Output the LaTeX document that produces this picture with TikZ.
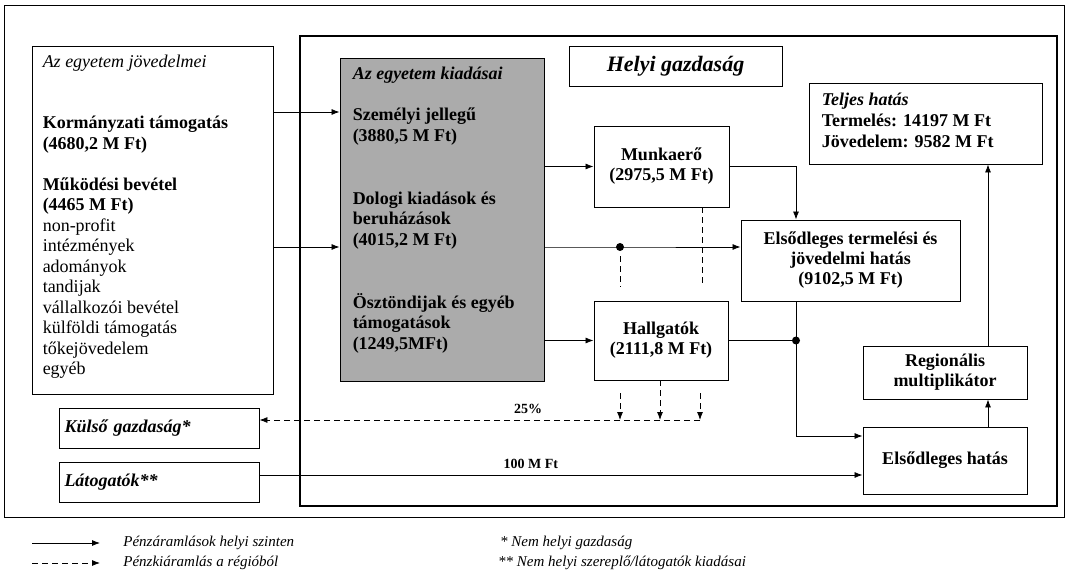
\documentclass[tikz,border=0pt]{standalone}
\usepackage{fontspec}
\setmainfont{Liberation Serif}
\usetikzlibrary{
  arrows.meta, % for the Latex arrow tip
  positioning, % for relative placement of the labels
}
\tikzset{
  box/.style={ % style for the plain boxes
    rectangle,draw,line width=0.9pt, % thin black border
    inner sep=0pt, % no padding, the size is set by hand
    align=center, % centred lines of text
    font=\fontsize{18}{20}\selectfont\bfseries, % bold serif text
  },
  greybox/.style={ % style for the spending box
    box, % inherit the box style
    fill=black!33, % grey fill
  },
  frame/.style={ % style for the outer frames
    rectangle,draw,inner sep=0pt,
  },
  txt/.style={ % style for the free text blocks
    inner sep=0pt,align=left,
    font=\fontsize{18}{20.5}\selectfont,
  },
  conn/.style={ % style for the money flows
    -{Latex[length=8pt,width=6pt]}, % small filled arrow tip
    line width=0.8pt,
  },
  leak/.style={ % style for the money leaving the region
    conn, % inherit the conn style
    dash pattern=on 6pt off 4pt,
  },
  dot/.style={ % style for the joints
    circle,fill,inner sep=0pt,minimum size=8pt,
  },
  num/.style={ % style for the numbers on the long flows
    font=\fontsize{14}{16}\selectfont\bfseries,
  },
  legtxt/.style={ % style for the legend texts
    inner sep=0pt,anchor=west,
    font=\fontsize{15}{17}\selectfont\itshape,
  },
}

\begin{document}
\begin{tikzpicture}[x=1pt,y=-1pt]
	\useasboundingbox (0,0) rectangle (1069,578);

	% frames
	\node[frame,line width=0.8pt,minimum width=1060pt,minimum height=512pt] (outer) at (534,261) {};
	\node[frame,line width=2.6pt,minimum width=757pt,minimum height=470pt] (local) at (678.5,271) {};

	% income
	\node[box,minimum width=241pt,minimum height=348pt] (jov) at (152.5,220) {};
	\node[txt,anchor=north west] (jovtxt) at ([xshift=11pt,yshift=-9pt]jov.north west) {%
		\textit{Az egyetem jövedelmei}\\[41pt]
		\textbf{Kormányzati támogatás}\\
		\textbf{(4680,2 M Ft)}\\[20.5pt]
		\textbf{Működési bevétel}\\
		\textbf{(4465 M Ft)}\\
		non-profit\\
		intézmények\\
		adományok\\
		tandijak\\
		vállalkozói bevétel\\
		külföldi támogatás\\
		tőkejövedelem\\
		egyéb};

	% spending
	\node[greybox,minimum width=204pt,minimum height=323pt] (grey) at (442,219.5) {};
	\node[txt,font=\fontsize{18}{20.8}\selectfont\bfseries,anchor=north west] (greytxt) at ([xshift=13pt,yshift=-9pt]grey.north west) {%
		\textit{Az egyetem kiadásai}\\[20.8pt]
		Személyi jellegű\\
		(3880,5 M Ft)\\[41.6pt]
		Dologi kiadások és\\
		beruházások\\
		(4015,2 M Ft)\\[41.6pt]
		Ösztöndijak és egyéb\\
		támogatások\\
		(1249,5MFt)};

	% local economy
	\node[box,minimum width=213pt,minimum height=40pt,font=\fontsize{22}{24}\selectfont\bfseries\itshape] (helyi) at (675.5,66) {Helyi gazdaság};
	\node[box,minimum width=135pt,minimum height=81pt] (munka) at (661.5,166.5) {Munkaerő\\(2975,5 M Ft)};
	\node[box,minimum width=134pt,minimum height=79pt] (hallg) at (661,340.5) {Hallgatók\\(2111,8 M Ft)};
	\node[box,minimum width=219pt,minimum height=81pt] (elsod) at (850.5,260.5) {Elsődleges termelési és\\jövedelmi hatás\\(9102,5 M Ft)};
	\node[box,minimum width=233pt,minimum height=81pt] (teljes) at (925.5,123.5) {};
	\node[txt,font=\fontsize{18}{21}\selectfont\bfseries,anchor=north west] (teljestxt) at ([xshift=13pt,yshift=-10pt]teljes.north west) {%
		\textit{Teljes hatás}\\
		Termelés: 14197 M Ft\\
		Jövedelem: 9582 M Ft};
	\node[box,minimum width=164pt,minimum height=53pt] (regio) at (945,372.5) {Regionális\\multiplikátor};
	\node[box,minimum width=164pt,minimum height=67pt] (elshat) at (945,460.5) {Elsődleges hatás};

	% outside
	\node[box,minimum width=200pt,minimum height=40pt,text width=189pt,align=left,font=\fontsize{18}{20}\selectfont\bfseries\itshape] (kulso) at (159,428) {Külső gazdaság*};
	\node[box,minimum width=200pt,minimum height=40pt,text width=189pt,align=left,font=\fontsize{18}{20}\selectfont\bfseries\itshape] (lato) at (159,482) {Látogatók**};

	% joints
	\node[dot] (j1) at (620,247) {};
	\node[dot] (j2) at (796,340.5) {};
	\coordinate (mx) at (988,0);
	\coordinate (d0) at (620,256);
	\coordinate (d1) at (702,285);
	\coordinate (d2) at (620,287);
	\coordinate (e1) at (620,393);
	\coordinate (e2) at (660,420);
	\coordinate (e3) at (700,393);

	% flows
	\draw[conn] (jov.east |- 0,112) -- (grey.west |- 0,112);
	\draw[conn] (jov.east |- j1) -- (grey.west |- j1);
	\draw[conn] (grey.east |- munka.west) -- (munka.west);
	\draw[conn] (grey.east |- j1) -- (j1.center) -- (elsod.west |- j1);
	\draw[conn] (grey.east |- hallg.west) -- (hallg.west);
	\draw[conn] (munka.east) -| (j2 |- elsod.north);
	\draw[line width=0.8pt] (hallg.east) -- (j2.center);
	\draw[conn] (j2 |- elsod.south) |- ([yshift=24.5pt]elshat.west);
	\draw[conn] ([yshift=7pt]lato.east) -- ([yshift=7pt]lato.east -| elshat.west)
		node[num,pos=0.45,above=3pt] (szaz) {100 M Ft};
	\draw[conn] (elshat.north -| mx) -- (regio.south -| mx);
	\draw[conn] (regio.north -| mx) -- (teljes.south -| mx);

	% leaks
	\draw[dash pattern=on 6pt off 4pt,line width=0.8pt] (munka.south -| d1) -- (d1);
	\draw[dash pattern=on 6pt off 4pt,line width=0.8pt] (d0) -- (d2);
	\draw[leak] (e1) -- (e1 |- e2);
	\draw[leak] (hallg.south -| e2) -- (e2);
	\draw[leak] (e3) -- (e3 |- e2);
	\draw[leak] (e3 |- e2) -- (kulso.east |- e2)
		node[num,pos=0.39,above=3pt] (negyed) {25\%};

	% legend
	\coordinate (la) at (32,543);
	\coordinate (lb) at (32,563);
	\draw[conn] (la) -- ++(68,0) node[legtxt,right=23pt] (leg1) {Pénzáramlások helyi szinten};
	\draw[leak] (lb) -- ++(68,0) node[legtxt,right=23pt] (leg2) {Pénzkiáramlás a régióból};
	\node[legtxt] (leg3) at (500,543) {* Nem helyi gazdaság};
	\node[legtxt] (leg4) at (498,563) {** Nem helyi szereplő/látogatók kiadásai};
\end{tikzpicture}
\end{document}
